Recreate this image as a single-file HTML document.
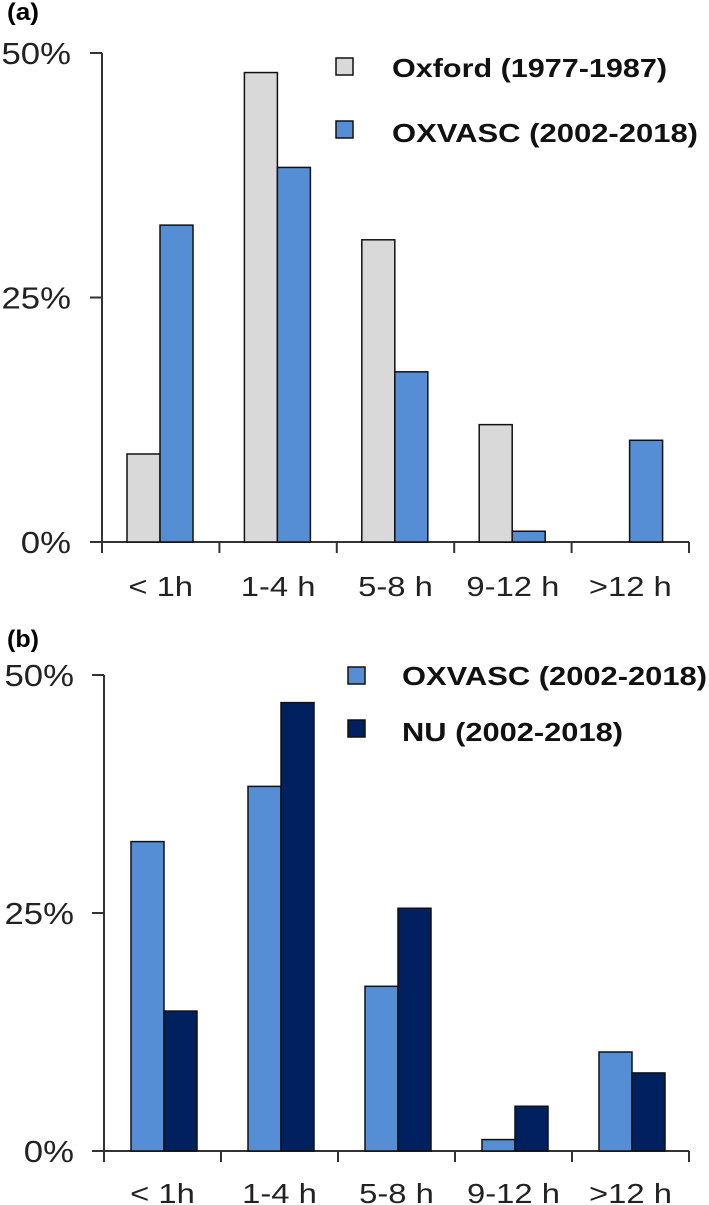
<!DOCTYPE html>
<html><head><meta charset="utf-8">
<style>
html,body{margin:0;padding:0;background:#fff;}
svg{display:block;font-family:"Liberation Sans",Arial,sans-serif;}
</style></head>
<body>
<svg id="chart" width="709" height="1205" viewBox="0 0 709 1205" xmlns="http://www.w3.org/2000/svg">
  <text x="7" y="20" font-size="24" font-weight="bold" fill="#000" textLength="32" lengthAdjust="spacingAndGlyphs">(a)</text>
  <text x="7" y="647" font-size="24" font-weight="bold" fill="#000" textLength="32" lengthAdjust="spacingAndGlyphs">(b)</text>
  <g id="panelA"></g>
  <g id="panelB"></g>
</svg>
<script>
const categories = ["< 1h", "1-4 h", "5-8 h", "9-12 h", ">12 h"];
const yTicks = [0, 25, 50];
const yTickLabels = ["0%", "25%", "50%"];
const oxford7787 = [9.0, 48.0, 30.9, 12.0, 0];
const oxvascA = [32.4, 38.3, 17.4, 1.1, 10.4];
const oxvascB = [32.5, 38.3, 17.3, 1.2, 10.4];
const nu = [14.7, 47.1, 25.5, 4.7, 8.2];
const legendA = ["Oxford (1977-1987)", "OXVASC (2002-2018)"];
const legendB = ["OXVASC (2002-2018)", "NU (2002-2018)"];

const NS = "http://www.w3.org/2000/svg";
function mk(tag, attrs, parent){
  const e = document.createElementNS(NS, tag);
  for (const k in attrs) e.setAttribute(k, attrs[k]);
  parent.appendChild(e);
  return e;
}
function fitWidth(el, stretch){
  const w = el.getComputedTextLength();
  el.setAttribute("textLength", (w * stretch).toFixed(1));
  el.setAttribute("lengthAdjust", "spacingAndGlyphs");
}

function drawPanel(g, cfg){
  const x0 = cfg.x0, x1 = cfg.x1, y0 = cfg.y0, y50 = cfg.y50;
  const yScale = v => y0 - (v / 50) * (y0 - y50);
  const cw = (x1 - x0) / categories.length;
  const xCat = i => x0 + i * cw;
  const ax = mk("line", {x1: x0, y1: y50, x2: x0, y2: y0 + 11, stroke: "#333", "stroke-width": 2}, g);
  
  
  const bx = mk("line", {x1: x0 - 12, y1: y0, x2: x1, y2: y0, stroke: "#333", "stroke-width": 2}, g);
  
  
  yTicks.forEach((t, i) => {
    const y = yScale(t);
    const tk = mk("line", {x1: x0 - 12, y1: y, x2: x0, y2: y, stroke: "#333", "stroke-width": 2}, g);
    
    
    const tx = mk("text", {x: cfg.labelRight, y: y + 11, "font-size": 31, "text-anchor": "end", fill: "#222"}, g);
    tx.textContent = yTickLabels[i];
    
    
    fitWidth(tx, 1.12);
  });
  for (let i = 0; i <= categories.length; i++) {
    const tk = mk("line", {x1: xCat(i), y1: y0, x2: xCat(i), y2: y0 + 11, stroke: "#333", "stroke-width": 2}, g);
    
    
  }
  categories.forEach((c, i) => {
    const tx = mk("text", {x: xCat(i) + cw / 2, y: cfg.xLabelY, "font-size": 28, "text-anchor": "middle", fill: "#222"}, g);
    tx.textContent = c;
    
    
    fitWidth(tx, 1.17);
  });
  cfg.series.forEach((s, si) => {
    s.values.forEach((v, i) => {
      if (v <= 0) return;
      const bx0 = xCat(i) + cfg.offset + si * cfg.bw;
      const r = mk("rect", {x: bx0, y: yScale(v), width: cfg.bw, height: y0 - yScale(v), fill: s.color, stroke: "#111", "stroke-width": 1.5}, g);
      
      
    });
    const L = cfg.legend[si];
    const sq = mk("rect", {x: L.sx, y: L.sy, width: L.ss, height: L.ss, fill: s.color, stroke: "#111", "stroke-width": 1.5}, g);
    
    
    const lt = mk("text", {x: L.tx, y: L.ty, "font-size": 26, "font-weight": "bold", fill: "#111", textLength: L.tl, lengthAdjust: "spacingAndGlyphs"}, g);
    lt.textContent = L.text;
    
    
  });
}

drawPanel(document.getElementById("panelA"), {
  x0: 102, x1: 689, y0: 542, y50: 53, labelRight: 71, xLabelY: 596, offset: 25, bw: 33,
  series: [
    {key: "oxford", values: oxford7787, color: "#d9d9d9"},
    {key: "oxvasc", values: oxvascA, color: "#558ed5"}
  ],
  legend: [
    {sx: 336, sy: 58, ss: 17, tx: 392, ty: 77, tl: 275, text: legendA[0]},
    {sx: 336, sy: 121, ss: 17, tx: 392, ty: 142, tl: 306, text: legendA[1]}
  ]
});
drawPanel(document.getElementById("panelB"), {
  x0: 104, x1: 689, y0: 1151, y50: 675, labelRight: 74, xLabelY: 1203, offset: 27, bw: 33,
  series: [
    {key: "oxvasc", values: oxvascB, color: "#558ed5"},
    {key: "nu", values: nu, color: "#002060"}
  ],
  legend: [
    {sx: 348, sy: 667, ss: 17, tx: 402, ty: 685, tl: 305, text: legendB[0]},
    {sx: 348, sy: 720, ss: 17, tx: 402, ty: 741, tl: 221, text: legendB[1]}
  ]
});
</script>
</body></html>
